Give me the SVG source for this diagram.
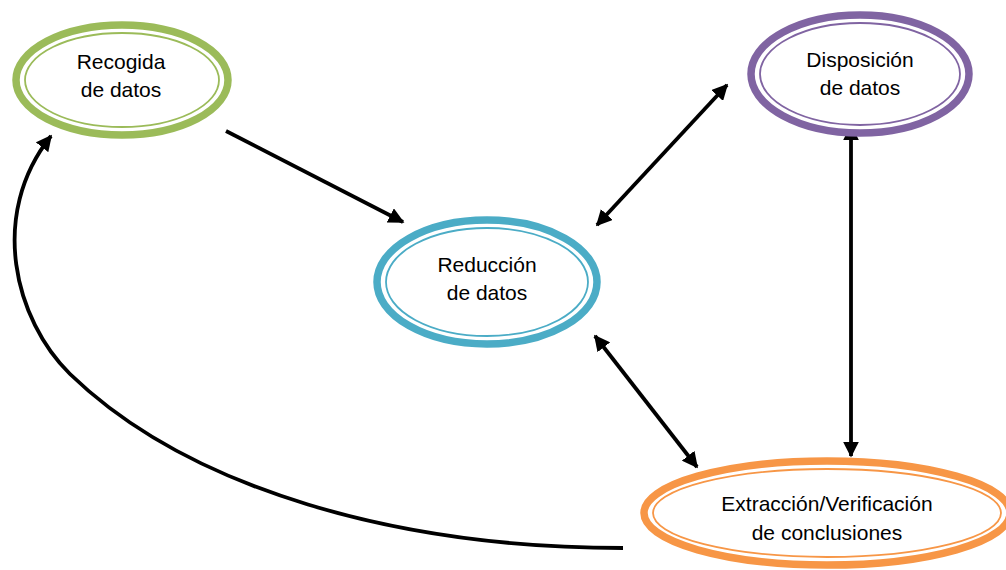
<svg xmlns="http://www.w3.org/2000/svg" width="1006" height="570" viewBox="0 0 1006 570">
<defs>
<style>
.o{fill:#fff;stroke-width:7.5}
.i{fill:none;stroke-width:1.8}
.t{font-family:"Liberation Sans",Arial,sans-serif;font-size:21px;fill:#000;text-anchor:middle}
.c{stroke:#000;stroke-width:3.8;fill:none}
</style>
<marker id="ah" viewBox="0 0 10 10" refX="9" refY="5" markerWidth="4.2" markerHeight="4.2" orient="auto-start-reverse" markerUnits="strokeWidth">
<path d="M0,0 L10,5 L0,10 z" fill="#000"/>
</marker>
</defs>
<rect width="1006" height="570" fill="#fff"/>
<g id="connectors">
<line class="c" x1="226" y1="131" x2="403" y2="222" marker-end="url(#ah)"/>
<line class="c" x1="597" y1="225" x2="727" y2="85" marker-start="url(#ah)" marker-end="url(#ah)"/>
<line class="c" x1="851" y1="126" x2="851" y2="456" marker-start="url(#ah)" marker-end="url(#ah)"/>
<line class="c" x1="595" y1="336" x2="697" y2="467" marker-start="url(#ah)" marker-end="url(#ah)"/>
<path class="c" d="M623,548 C400,548 190,490 70,374 C15,320 -12,215 51,136" marker-end="url(#ah)"/>
</g>
<g id="recogida">
<ellipse class="o" stroke="#9BBB59" cx="122" cy="80" rx="106" ry="55"/>
<ellipse class="i" stroke="#9BBB59" cx="122" cy="80" rx="97" ry="47"/>
<text class="t" x="121" y="69">Recogida</text>
<text class="t" x="121" y="97">de datos</text>
</g>
<g id="disposicion">
<ellipse class="o" stroke="#8064A2" cx="860" cy="74" rx="109" ry="59"/>
<ellipse class="i" stroke="#8064A2" cx="860" cy="74" rx="100" ry="51"/>
<text class="t" x="860" y="67">Disposición</text>
<text class="t" x="860" y="95">de datos</text>
</g>
<g id="reduccion">
<ellipse class="o" stroke="#4BACC6" cx="487" cy="282" rx="110" ry="62"/>
<ellipse class="i" stroke="#4BACC6" cx="487" cy="282" rx="101" ry="54"/>
<text class="t" x="487" y="272">Reducción</text>
<text class="t" x="487" y="300">de datos</text>
</g>
<g id="extraccion">
<ellipse class="o" stroke="#F79646" cx="827" cy="513" rx="183" ry="52"/>
<ellipse class="i" stroke="#F79646" cx="827" cy="513" rx="174" ry="44"/>
<text class="t" x="827" y="511">Extracción/Verificación</text>
<text class="t" x="827" y="540">de conclusiones</text>
</g>
</svg>
